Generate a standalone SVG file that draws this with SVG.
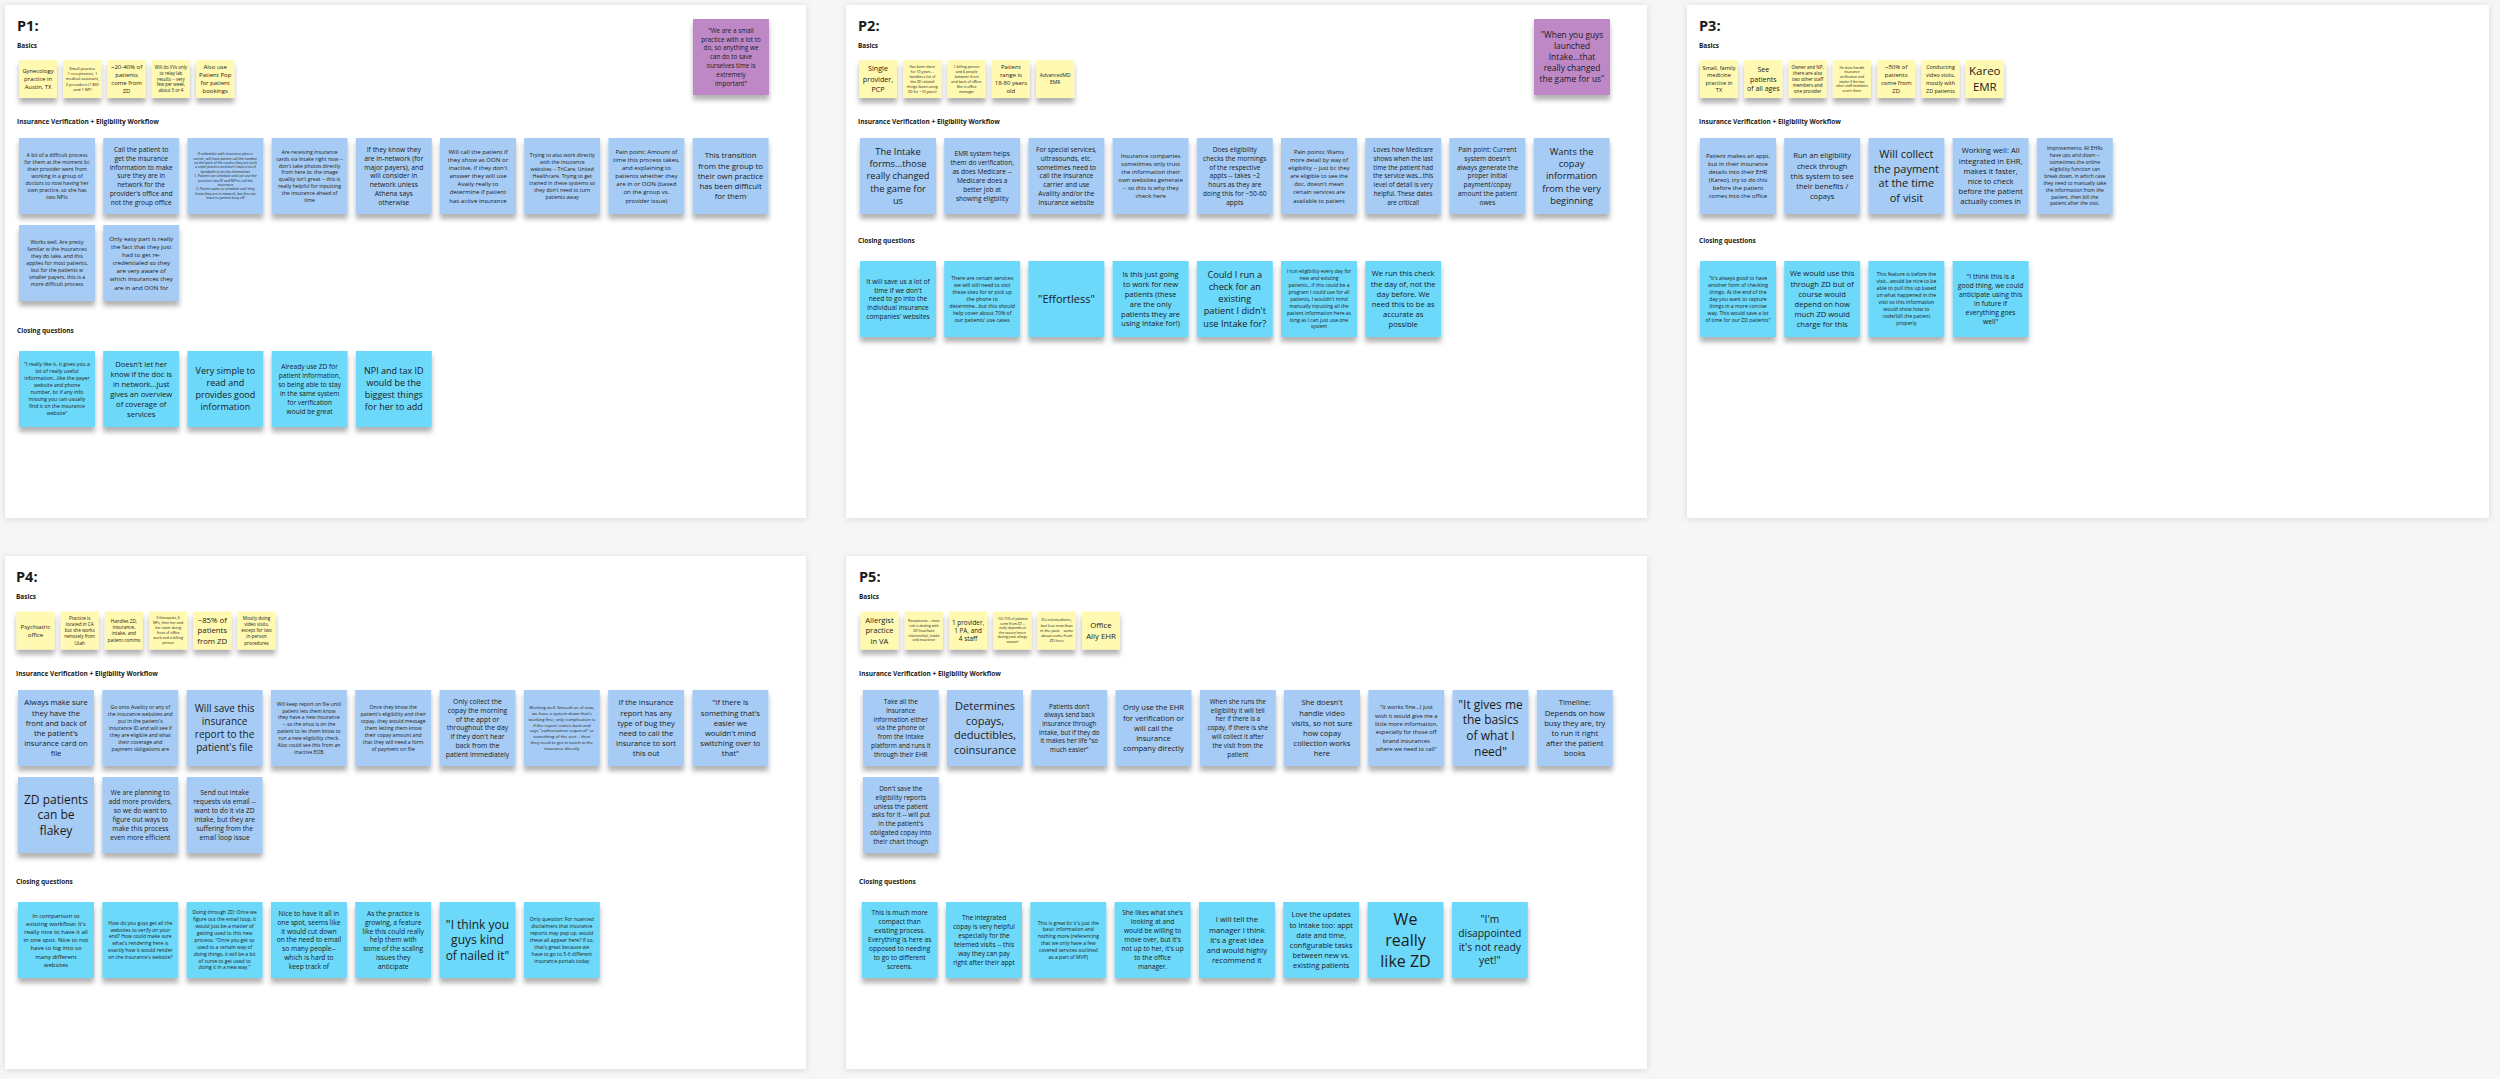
<svg xmlns="http://www.w3.org/2000/svg" width="2500" height="1079" viewBox="0 0 2500 1079">
<defs>
<filter id="ns" x="-20%" y="-20%" width="140%" height="150%"><feDropShadow dx="0" dy="5" stdDeviation="2.5" flood-color="#000" flood-opacity="0.3"/></filter>
<filter id="ps" x="-5%" y="-5%" width="110%" height="110%"><feDropShadow dx="0" dy="1" stdDeviation="3" flood-color="#000" flood-opacity="0.12"/></filter>
</defs>
<style>
text{font-family:"Open Sans","Liberation Sans",sans-serif;fill:#1a1a1a}
.n text{text-anchor:middle}
.n rect{filter:url(#ns)}
.y rect{fill:#fff9b1}
.b rect{fill:#a6ccf5}
.c rect{fill:#6cd8fa}
.v rect{fill:#be88c7}
.panel{fill:#fff;filter:url(#ps)}
.t{font-size:14.5px;font-weight:700}
.l{font-size:6.5px;font-weight:700}
</style>
<rect width="2500" height="1079" fill="#f6f6f6"/>
<g id="panels">
<rect class="panel" x="5" y="5" width="801" height="513"/>
<rect class="panel" x="846" y="5" width="801" height="513"/>
<rect class="panel" x="1687" y="5" width="802" height="513"/>
<rect class="panel" x="5" y="556" width="801" height="513"/>
<rect class="panel" x="846" y="556" width="801" height="513"/>
</g>
<g id="labels">
<text class="t" x="17" y="31">P1:</text>
<text class="l" x="17" y="47.5">Basics</text>
<text class="l" x="17" y="124">Insurance Verification + Eligibility Workflow</text>
<text class="l" x="17" y="333">Closing questions</text>
<text class="t" x="858" y="31">P2:</text>
<text class="l" x="858" y="47.5">Basics</text>
<text class="l" x="858" y="124">Insurance Verification + Eligibility Workflow</text>
<text class="l" x="858" y="243">Closing questions</text>
<text class="t" x="1699" y="31">P3:</text>
<text class="l" x="1699" y="47.5">Basics</text>
<text class="l" x="1699" y="124">Insurance Verification + Eligibility Workflow</text>
<text class="l" x="1699" y="243">Closing questions</text>
<text class="t" x="16" y="582">P4:</text>
<text class="l" x="16" y="599">Basics</text>
<text class="l" x="16" y="675.5">Insurance Verification + Eligibility Workflow</text>
<text class="l" x="16" y="884">Closing questions</text>
<text class="t" x="859" y="582">P5:</text>
<text class="l" x="859" y="599">Basics</text>
<text class="l" x="859" y="675.5">Insurance Verification + Eligibility Workflow</text>
<text class="l" x="859" y="884">Closing questions</text>
</g>

<!-- P1 -->
<g id="p1-b1" class="n y"><rect x="19" y="60" width="38" height="38"/><text x="38" y="73.4" font-size="5.8"><tspan x="38">Gynecology</tspan><tspan x="38" dy="7.8">practice in</tspan><tspan x="38" dy="7.8">Austin, TX</tspan></text></g>
<g id="p1-b2" class="n y"><rect x="63.3" y="60" width="38" height="38"/><text x="82.3" y="70" font-size="4"><tspan x="82.3">Small practice</tspan><tspan x="82.3" dy="5.2">1 receptionist, 1</tspan><tspan x="82.3" dy="5.2">medical assistant,</tspan><tspan x="82.3" dy="5.2">2 providers (1 MD</tspan><tspan x="82.3" dy="5.2">and 1 NP)</tspan></text></g>
<g id="p1-b3" class="n y"><rect x="107.6" y="60" width="38" height="38"/><text x="126.6" y="69.3" font-size="6"><tspan x="126.6">~20-40% of</tspan><tspan x="126.6" dy="7.9">patients</tspan><tspan x="126.6" dy="7.9">come from</tspan><tspan x="126.6" dy="7.9">ZD</tspan></text></g>
<g id="p1-b4" class="n y"><rect x="151.9" y="60" width="38" height="38"/><text x="170.9" y="69.2" font-size="4.4"><tspan x="170.9">Will do VVs only</tspan><tspan x="170.9" dy="5.7">to relay lab</tspan><tspan x="170.9" dy="5.7">results -- very</tspan><tspan x="170.9" dy="5.7">few per week,</tspan><tspan x="170.9" dy="5.7">about 3 or 4</tspan></text></g>
<g id="p1-b5" class="n y"><rect x="196.2" y="60" width="38" height="38"/><text x="215.2" y="69.3" font-size="6"><tspan x="215.2">Also use</tspan><tspan x="215.2" dy="7.9">Patient Pop</tspan><tspan x="215.2" dy="7.9">for patient</tspan><tspan x="215.2" dy="7.9">bookings</tspan></text></g>
<g id="p1-q" class="n v"><rect x="693" y="19" width="76" height="76"/><text x="731" y="32.6" font-size="6.3"><tspan x="731">"We are a small</tspan><tspan x="731" dy="8.9">practice with a lot to</tspan><tspan x="731" dy="8.9">do, so anything we</tspan><tspan x="731" dy="8.9">can do to save</tspan><tspan x="731" dy="8.9">ourselves time is</tspan><tspan x="731" dy="8.9">extremely</tspan><tspan x="731" dy="8.9">important"</tspan></text></g>

<g id="p1-w1" class="n b"><rect x="19" y="138" width="76" height="76"/><text x="57" y="157.2" font-size="5.2"><tspan x="57">A bit of a difficult process</tspan><tspan x="57" dy="6.9">for them at the moment bc</tspan><tspan x="57" dy="6.9">their provider went from</tspan><tspan x="57" dy="6.9">working in a group of</tspan><tspan x="57" dy="6.9">doctors to now having her</tspan><tspan x="57" dy="6.9">own practice, so she has</tspan><tspan x="57" dy="6.9">two NPIs</tspan></text></g>
<g id="p1-w2" class="n b"><rect x="103.2" y="138" width="76" height="76"/><text x="141.2" y="152" font-size="6.6"><tspan x="141.2">Call the patient to</tspan><tspan x="141.2" dy="8.8">get the insurance</tspan><tspan x="141.2" dy="8.8">information to make</tspan><tspan x="141.2" dy="8.8">sure they are in</tspan><tspan x="141.2" dy="8.8">network for the</tspan><tspan x="141.2" dy="8.8">provider's office and</tspan><tspan x="141.2" dy="8.8">not the group office</tspan></text></g>
<g id="p1-w3" class="n b"><rect x="187.4" y="138" width="76" height="76"/><text x="225.4" y="155.2" font-size="3.4"><tspan x="225.4">If unfamiliar with insurance plan or</tspan><tspan x="225.4" dy="4.4">carrier, will have patient call the number</tspan><tspan x="225.4" dy="4.4">on the back of the card to they are such</tspan><tspan x="225.4" dy="4.4">a small practice and don't have a lot of</tspan><tspan x="225.4" dy="4.4">bandwith to do this themselves</tspan><tspan x="225.4" dy="4.4">1. Patient can schedule and can use the</tspan><tspan x="225.4" dy="4.4">practice's tax ID and NPI to call the</tspan><tspan x="225.4" dy="4.4">insurance</tspan><tspan x="225.4" dy="4.4">2. Patient waits to schedule until they</tspan><tspan x="225.4" dy="4.4">know they are in-network, but this can</tspan><tspan x="225.4" dy="4.4">leave to patient drop-off</tspan></text></g>
<g id="p1-w4" class="n b"><rect x="271.6" y="138" width="76" height="76"/><text x="309.6" y="153.7" font-size="5.2"><tspan x="309.6">Are receiving insurance</tspan><tspan x="309.6" dy="6.9">cards via Intake right now --</tspan><tspan x="309.6" dy="6.9">don't take photos directly</tspan><tspan x="309.6" dy="6.9">from here bc the image</tspan><tspan x="309.6" dy="6.9">quality isn't great -- this is</tspan><tspan x="309.6" dy="6.9">really helpful for inputting</tspan><tspan x="309.6" dy="6.9">the insurance ahead of</tspan><tspan x="309.6" dy="6.9">time</tspan></text></g>
<g id="p1-w5" class="n b"><rect x="355.8" y="138" width="76" height="76"/><text x="393.8" y="151.75" font-size="6.8"><tspan x="393.8">If they know they</tspan><tspan x="393.8" dy="8.9">are in-network (for</tspan><tspan x="393.8" dy="8.9">major payers), and</tspan><tspan x="393.8" dy="8.9">will consider in</tspan><tspan x="393.8" dy="8.9">network unless</tspan><tspan x="393.8" dy="8.9">Athena says</tspan><tspan x="393.8" dy="8.9">otherwise</tspan></text></g>
<g id="p1-w6" class="n b"><rect x="440" y="138" width="76" height="76"/><text x="478" y="153.9" font-size="6.1"><tspan x="478">Will call the patient if</tspan><tspan x="478" dy="8.1">they show as OON or</tspan><tspan x="478" dy="8.1">inactive, if they don't</tspan><tspan x="478" dy="8.1">answer they will use</tspan><tspan x="478" dy="8.1">Availy really to</tspan><tspan x="478" dy="8.1">determine if patient</tspan><tspan x="478" dy="8.1">has active insurance</tspan></text></g>
<g id="p1-w7" class="n b"><rect x="524.2" y="138" width="76" height="76"/><text x="562.2" y="157.2" font-size="5.2"><tspan x="562.2">Trying to also work directly</tspan><tspan x="562.2" dy="6.9">with the insurance</tspan><tspan x="562.2" dy="6.9">websites -- TriCare, United</tspan><tspan x="562.2" dy="6.9">Healthcare. Trying to get</tspan><tspan x="562.2" dy="6.9">trained in these systems so</tspan><tspan x="562.2" dy="6.9">they don't need to turn</tspan><tspan x="562.2" dy="6.9">patients away</tspan></text></g>
<g id="p1-w8" class="n b"><rect x="608.4" y="138" width="76" height="76"/><text x="646.4" y="153.9" font-size="6.1"><tspan x="646.4">Pain point: Amount of</tspan><tspan x="646.4" dy="8.1">time this process takes,</tspan><tspan x="646.4" dy="8.1">and explaining to</tspan><tspan x="646.4" dy="8.1">patients whether they</tspan><tspan x="646.4" dy="8.1">are in or OON (based</tspan><tspan x="646.4" dy="8.1">on the group vs.</tspan><tspan x="646.4" dy="8.1">provider issue)</tspan></text></g>
<g id="p1-w9" class="n b"><rect x="692.6" y="138" width="76" height="76"/><text x="730.6" y="158.4" font-size="7.8"><tspan x="730.6">This transition</tspan><tspan x="730.6" dy="10.2">from the group to</tspan><tspan x="730.6" dy="10.2">their own practice</tspan><tspan x="730.6" dy="10.2">has been difficult</tspan><tspan x="730.6" dy="10.2">for them</tspan></text></g>
<g id="p1-w10" class="n b"><rect x="19" y="225" width="76" height="76"/><text x="57" y="244.2" font-size="5.2"><tspan x="57">Works well. Are pretty</tspan><tspan x="57" dy="6.9">familar w the insurances</tspan><tspan x="57" dy="6.9">they do take, and this</tspan><tspan x="57" dy="6.9">applies for most patients,</tspan><tspan x="57" dy="6.9">but for the patients w</tspan><tspan x="57" dy="6.9">smaller payers, this is a</tspan><tspan x="57" dy="6.9">more difficult process</tspan></text></g>
<g id="p1-w11" class="n b"><rect x="103.2" y="225" width="76" height="76"/><text x="141.2" y="240.9" font-size="6.1"><tspan x="141.2">Only easy part is really</tspan><tspan x="141.2" dy="8.1">the fact that they just</tspan><tspan x="141.2" dy="8.1">had to get re-</tspan><tspan x="141.2" dy="8.1">credentialed so they</tspan><tspan x="141.2" dy="8.1">are very aware of</tspan><tspan x="141.2" dy="8.1">which insurances they</tspan><tspan x="141.2" dy="8.1">are in and OON for</tspan></text></g>

<g id="p1-c1" class="n c"><rect x="19" y="351" width="76" height="76"/><text x="57" y="366.4" font-size="5.2"><tspan x="57">"I really like it, it gives you a</tspan><tspan x="57" dy="7">lot of really useful</tspan><tspan x="57" dy="7">information...like the payer</tspan><tspan x="57" dy="7">website and phone</tspan><tspan x="57" dy="7">number, bc if any info</tspan><tspan x="57" dy="7">missing you can usually</tspan><tspan x="57" dy="7">find it on the insurance</tspan><tspan x="57" dy="7">website"</tspan></text></g>
<g id="p1-c2" class="n c"><rect x="103.2" y="351" width="76" height="76"/><text x="141.2" y="366.5" font-size="7.6"><tspan x="141.2">Doesn't let her</tspan><tspan x="141.2" dy="10.1">know if the doc is</tspan><tspan x="141.2" dy="10.1">in network...just</tspan><tspan x="141.2" dy="10.1">gives an overview</tspan><tspan x="141.2" dy="10.1">of coverage of</tspan><tspan x="141.2" dy="10.1">services</tspan></text></g>
<g id="p1-c3" class="n c"><rect x="187.4" y="351" width="76" height="76"/><text x="225.4" y="374.4" font-size="9"><tspan x="225.4">Very simple to</tspan><tspan x="225.4" dy="11.9">read and</tspan><tspan x="225.4" dy="11.9">provides good</tspan><tspan x="225.4" dy="11.9">information</tspan></text></g>
<g id="p1-c4" class="n c"><rect x="271.6" y="351" width="76" height="76"/><text x="309.6" y="369.1" font-size="6.6"><tspan x="309.6">Already use ZD for</tspan><tspan x="309.6" dy="8.9">patient information,</tspan><tspan x="309.6" dy="8.9">so being able to stay</tspan><tspan x="309.6" dy="8.9">in the same system</tspan><tspan x="309.6" dy="8.9">for verification</tspan><tspan x="309.6" dy="8.9">would be great</tspan></text></g>
<g id="p1-c5" class="n c"><rect x="355.8" y="351" width="76" height="76"/><text x="393.8" y="374.4" font-size="9"><tspan x="393.8">NPI and tax ID</tspan><tspan x="393.8" dy="11.9">would be the</tspan><tspan x="393.8" dy="11.9">biggest things</tspan><tspan x="393.8" dy="11.9">for her to add</tspan></text></g>

<!-- P2 -->
<g id="p2-b1" class="n y"><rect x="859" y="60" width="38" height="38"/><text x="878" y="71.1" font-size="7.2"><tspan x="878">Single</tspan><tspan x="878" dy="10.5">provider,</tspan><tspan x="878" dy="10.5">PCP</tspan></text></g>
<g id="p2-b2" class="n y"><rect x="903.3" y="60" width="38" height="38"/><text x="922.3" y="67.8" font-size="3.6"><tspan x="922.3">Has been there</tspan><tspan x="922.3" dy="5">for 10 years --</tspan><tspan x="922.3" dy="5">handles a lot of</tspan><tspan x="922.3" dy="5">the ZD related</tspan><tspan x="922.3" dy="5">things (been using</tspan><tspan x="922.3" dy="5">ZD for ~10 years)</tspan></text></g>
<g id="p2-b3" class="n y"><rect x="947.6" y="60" width="38" height="38"/><text x="966.6" y="67.8" font-size="3.6"><tspan x="966.6">1 billing person</tspan><tspan x="966.6" dy="5">and 6 people</tspan><tspan x="966.6" dy="5">between front</tspan><tspan x="966.6" dy="5">and back of office.</tspan><tspan x="966.6" dy="5">She is office</tspan><tspan x="966.6" dy="5">manager</tspan></text></g>
<g id="p2-b4" class="n y"><rect x="991.9" y="60" width="38" height="38"/><text x="1010.9" y="69.3" font-size="6"><tspan x="1010.9">Patient</tspan><tspan x="1010.9" dy="7.9">range is</tspan><tspan x="1010.9" dy="7.9">18-80 years</tspan><tspan x="1010.9" dy="7.9">old</tspan></text></g>
<g id="p2-b5" class="n y"><rect x="1036.2" y="60" width="38" height="38"/><text x="1055.2" y="77.15" font-size="5"><tspan x="1055.2">AdvancedMD</tspan><tspan x="1055.2" dy="7.3">EMR</tspan></text></g>
<g id="p2-q" class="n v"><rect x="1534" y="19" width="76" height="76"/><text x="1572" y="37.6" font-size="8.4"><tspan x="1572">"When you guys</tspan><tspan x="1572" dy="11.2">launched</tspan><tspan x="1572" dy="11.2">Intake...that</tspan><tspan x="1572" dy="11.2">really changed</tspan><tspan x="1572" dy="11.2">the game for us"</tspan></text></g>

<g id="p2-w1" class="n b"><rect x="860" y="138" width="76" height="76"/><text x="898" y="154.95" font-size="9.3"><tspan x="898">The Intake</tspan><tspan x="898" dy="12.2">forms...those</tspan><tspan x="898" dy="12.2">really changed</tspan><tspan x="898" dy="12.2">the game for</tspan><tspan x="898" dy="12.2">us</tspan></text></g>
<g id="p2-w2" class="n b"><rect x="944.2" y="138" width="76" height="76"/><text x="982.2" y="155.9" font-size="6.6"><tspan x="982.2">EMR system helps</tspan><tspan x="982.2" dy="9">them do verification,</tspan><tspan x="982.2" dy="9">as does Medicare --</tspan><tspan x="982.2" dy="9">Medicare does a</tspan><tspan x="982.2" dy="9">better job at</tspan><tspan x="982.2" dy="9">showing eligbility</tspan></text></g>
<g id="p2-w3" class="n b"><rect x="1028.4" y="138" width="76" height="76"/><text x="1066.4" y="151.7" font-size="6.6"><tspan x="1066.4">For special services,</tspan><tspan x="1066.4" dy="8.9">ultrasounds, etc.</tspan><tspan x="1066.4" dy="8.9">sometimes need to</tspan><tspan x="1066.4" dy="8.9">call the insurance</tspan><tspan x="1066.4" dy="8.9">carrier and use</tspan><tspan x="1066.4" dy="8.9">Availity and/or the</tspan><tspan x="1066.4" dy="8.9">insurance website</tspan></text></g>
<g id="p2-w4" class="n b"><rect x="1112.6" y="138" width="76" height="76"/><text x="1150.6" y="157.9" font-size="6"><tspan x="1150.6">Insurance companies</tspan><tspan x="1150.6" dy="8.1">sometimes only trust</tspan><tspan x="1150.6" dy="8.1">the information their</tspan><tspan x="1150.6" dy="8.1">own websites generate</tspan><tspan x="1150.6" dy="8.1">-- so this is why they</tspan><tspan x="1150.6" dy="8.1">check here</tspan></text></g>
<g id="p2-w5" class="n b"><rect x="1196.8" y="138" width="76" height="76"/><text x="1234.8" y="151.7" font-size="6.6"><tspan x="1234.8">Does eligibility</tspan><tspan x="1234.8" dy="8.9">checks the mornings</tspan><tspan x="1234.8" dy="8.9">of the respective</tspan><tspan x="1234.8" dy="8.9">appts -- takes ~2</tspan><tspan x="1234.8" dy="8.9">hours as they are</tspan><tspan x="1234.8" dy="8.9">doing this for ~50-60</tspan><tspan x="1234.8" dy="8.9">appts</tspan></text></g>
<g id="p2-w6" class="n b"><rect x="1281" y="138" width="76" height="76"/><text x="1319" y="153.9" font-size="5.8"><tspan x="1319">Pain points: Wants</tspan><tspan x="1319" dy="8.1">more detail by way of</tspan><tspan x="1319" dy="8.1">eligibility -- just bc they</tspan><tspan x="1319" dy="8.1">are eligible to see the</tspan><tspan x="1319" dy="8.1">doc, doesn't mean</tspan><tspan x="1319" dy="8.1">certain services are</tspan><tspan x="1319" dy="8.1">available to patient</tspan></text></g>
<g id="p2-w7" class="n b"><rect x="1365.2" y="138" width="76" height="76"/><text x="1403.2" y="151.9" font-size="6.3"><tspan x="1403.2">Loves how Medicare</tspan><tspan x="1403.2" dy="8.8">shows when the last</tspan><tspan x="1403.2" dy="8.8">time the patient had</tspan><tspan x="1403.2" dy="8.8">the service was...this</tspan><tspan x="1403.2" dy="8.8">level of detail is very</tspan><tspan x="1403.2" dy="8.8">helpful. These dates</tspan><tspan x="1403.2" dy="8.8">are critical!</tspan></text></g>
<g id="p2-w8" class="n b"><rect x="1449.4" y="138" width="76" height="76"/><text x="1487.4" y="151.7" font-size="6.6"><tspan x="1487.4">Pain point: Current</tspan><tspan x="1487.4" dy="8.9">system doesn't</tspan><tspan x="1487.4" dy="8.9">always generate the</tspan><tspan x="1487.4" dy="8.9">proper initial</tspan><tspan x="1487.4" dy="8.9">payment/copay</tspan><tspan x="1487.4" dy="8.9">amount the patient</tspan><tspan x="1487.4" dy="8.9">owes</tspan></text></g>
<g id="p2-w9" class="n b"><rect x="1533.6" y="138" width="76" height="76"/><text x="1571.6" y="154.95" font-size="9.3"><tspan x="1571.6">Wants the</tspan><tspan x="1571.6" dy="12.2">copay</tspan><tspan x="1571.6" dy="12.2">information</tspan><tspan x="1571.6" dy="12.2">from the very</tspan><tspan x="1571.6" dy="12.2">beginning</tspan></text></g>

<g id="p2-c1" class="n c"><rect x="860" y="261" width="76" height="76"/><text x="898" y="283.8" font-size="6.6"><tspan x="898">It will save us a lot of</tspan><tspan x="898" dy="8.8">time if we don't</tspan><tspan x="898" dy="8.8">need to go into the</tspan><tspan x="898" dy="8.8">individual insurance</tspan><tspan x="898" dy="8.8">companies' websites</tspan></text></g>
<g id="p2-c2" class="n c"><rect x="944.2" y="261" width="76" height="76"/><text x="982.2" y="279.9" font-size="5.2"><tspan x="982.2">There are certain services</tspan><tspan x="982.2" dy="7">we will still need to visit</tspan><tspan x="982.2" dy="7">these sites for or pick up</tspan><tspan x="982.2" dy="7">the phone to</tspan><tspan x="982.2" dy="7">determine...but this should</tspan><tspan x="982.2" dy="7">help cover about 70% of</tspan><tspan x="982.2" dy="7">our patients' use cases</tspan></text></g>
<g id="p2-c3" class="n c"><rect x="1028.4" y="261" width="76" height="76"/><text x="1066.4" y="303" font-size="11"><tspan x="1066.4">"Effortless"</tspan></text></g>
<g id="p2-c4" class="n c"><rect x="1112.6" y="261" width="76" height="76"/><text x="1150.6" y="276.95" font-size="7.5"><tspan x="1150.6">Is this just going</tspan><tspan x="1150.6" dy="9.9">to work for new</tspan><tspan x="1150.6" dy="9.9">patients (these</tspan><tspan x="1150.6" dy="9.9">are the only</tspan><tspan x="1150.6" dy="9.9">patients they are</tspan><tspan x="1150.6" dy="9.9">using Intake for!)</tspan></text></g>
<g id="p2-c5" class="n c"><rect x="1196.8" y="261" width="76" height="76"/><text x="1234.8" y="278.1" font-size="9.2"><tspan x="1234.8">Could I run a</tspan><tspan x="1234.8" dy="12.1">check for an</tspan><tspan x="1234.8" dy="12.1">existing</tspan><tspan x="1234.8" dy="12.1">patient I didn't</tspan><tspan x="1234.8" dy="12.1">use Intake for?</tspan></text></g>
<g id="p2-c6" class="n c"><rect x="1281" y="261" width="76" height="76"/><text x="1319" y="273.2" font-size="5"><tspan x="1319">I run eligibility every day for</tspan><tspan x="1319" dy="6.9">new and existing</tspan><tspan x="1319" dy="6.9">patients...if this could be a</tspan><tspan x="1319" dy="6.9">program I could use for all</tspan><tspan x="1319" dy="6.9">patients, I wouldn't mind</tspan><tspan x="1319" dy="6.9">manually inputting all the</tspan><tspan x="1319" dy="6.9">patient information here as</tspan><tspan x="1319" dy="6.9">long as I can just use one</tspan><tspan x="1319" dy="6.9">system</tspan></text></g>
<g id="p2-c7" class="n c"><rect x="1365.2" y="261" width="76" height="76"/><text x="1403.2" y="276.45" font-size="7.6"><tspan x="1403.2">We run this check</tspan><tspan x="1403.2" dy="10.1">the day of, not the</tspan><tspan x="1403.2" dy="10.1">day before. We</tspan><tspan x="1403.2" dy="10.1">need this to be as</tspan><tspan x="1403.2" dy="10.1">accurate as</tspan><tspan x="1403.2" dy="10.1">possible</tspan></text></g>

<!-- P3 -->
<g id="p3-b1" class="n y"><rect x="1700" y="60" width="38" height="38"/><text x="1719" y="69.6" font-size="5.6"><tspan x="1719">Small, family</tspan><tspan x="1719" dy="7.6">medicine</tspan><tspan x="1719" dy="7.6">practice in</tspan><tspan x="1719" dy="7.6">TX</tspan></text></g>
<g id="p3-b2" class="n y"><rect x="1744.3" y="60" width="38" height="38"/><text x="1763.3" y="72.2" font-size="7"><tspan x="1763.3">See</tspan><tspan x="1763.3" dy="9.3">patients</tspan><tspan x="1763.3" dy="9.3">of all ages</tspan></text></g>
<g id="p3-b3" class="n y"><rect x="1788.6" y="60" width="38" height="38"/><text x="1807.6" y="68.5" font-size="4.6"><tspan x="1807.6">Owner and NP,</tspan><tspan x="1807.6" dy="6.1">there are also</tspan><tspan x="1807.6" dy="6.1">two other staff</tspan><tspan x="1807.6" dy="6.1">members and</tspan><tspan x="1807.6" dy="6.1">one provider</tspan></text></g>
<g id="p3-b4" class="n y"><rect x="1832.9" y="60" width="38" height="38"/><text x="1851.9" y="68.7" font-size="3.4"><tspan x="1851.9">He does handle</tspan><tspan x="1851.9" dy="4.6">insurance</tspan><tspan x="1851.9" dy="4.6">verification and</tspan><tspan x="1851.9" dy="4.6">intake if the two</tspan><tspan x="1851.9" dy="4.6">other staff members</tspan><tspan x="1851.9" dy="4.6">aren't there</tspan></text></g>
<g id="p3-b5" class="n y"><rect x="1877.2" y="60" width="38" height="38"/><text x="1896.2" y="69.3" font-size="6"><tspan x="1896.2">~50% of</tspan><tspan x="1896.2" dy="7.9">patients</tspan><tspan x="1896.2" dy="7.9">come from</tspan><tspan x="1896.2" dy="7.9">ZD</tspan></text></g>
<g id="p3-b6" class="n y"><rect x="1921.5" y="60" width="38" height="38"/><text x="1940.5" y="69.1" font-size="5.4"><tspan x="1940.5">Conducting</tspan><tspan x="1940.5" dy="7.9">video visits,</tspan><tspan x="1940.5" dy="7.9">mostly with</tspan><tspan x="1940.5" dy="7.9">ZD patients</tspan></text></g>
<g id="p3-b7" class="n y"><rect x="1965.8" y="60" width="38" height="38"/><text x="1984.8" y="75.25" font-size="11.5"><tspan x="1984.8">Kareo</tspan><tspan x="1984.8" dy="15.7">EMR</tspan></text></g>

<g id="p3-w1" class="n b"><rect x="1700" y="138" width="76" height="76"/><text x="1738" y="157.9" font-size="6"><tspan x="1738">Patient makes an appt,</tspan><tspan x="1738" dy="8.1">but in their insurance</tspan><tspan x="1738" dy="8.1">details into their EHR</tspan><tspan x="1738" dy="8.1">(Kareo), try to do this</tspan><tspan x="1738" dy="8.1">before the patient</tspan><tspan x="1738" dy="8.1">comes into the office</tspan></text></g>
<g id="p3-w2" class="n b"><rect x="1784.2" y="138" width="76" height="76"/><text x="1822.2" y="158.3" font-size="7.6"><tspan x="1822.2">Run an eligibility</tspan><tspan x="1822.2" dy="10.2">check through</tspan><tspan x="1822.2" dy="10.2">this system to see</tspan><tspan x="1822.2" dy="10.2">their benefits /</tspan><tspan x="1822.2" dy="10.2">copays</tspan></text></g>
<g id="p3-w3" class="n b"><rect x="1868.4" y="138" width="76" height="76"/><text x="1906.4" y="158.4" font-size="11"><tspan x="1906.4">Will collect</tspan><tspan x="1906.4" dy="14.4">the payment</tspan><tspan x="1906.4" dy="14.4">at the time</tspan><tspan x="1906.4" dy="14.4">of visit</tspan></text></g>
<g id="p3-w4" class="n b"><rect x="1952.6" y="138" width="76" height="76"/><text x="1990.6" y="153.45" font-size="7.6"><tspan x="1990.6">Working well: All</tspan><tspan x="1990.6" dy="10.1">integrated in EHR,</tspan><tspan x="1990.6" dy="10.1">makes it faster,</tspan><tspan x="1990.6" dy="10.1">nice to check</tspan><tspan x="1990.6" dy="10.1">before the patient</tspan><tspan x="1990.6" dy="10.1">actually comes in</tspan></text></g>
<g id="p3-w5" class="n b"><rect x="2036.8" y="138" width="76" height="76"/><text x="2074.8" y="150.2" font-size="5"><tspan x="2074.8">Improvements: All EHRs</tspan><tspan x="2074.8" dy="6.9">have ups and down --</tspan><tspan x="2074.8" dy="6.9">sometimes the online</tspan><tspan x="2074.8" dy="6.9">eligibility function can</tspan><tspan x="2074.8" dy="6.9">break down, in which case</tspan><tspan x="2074.8" dy="6.9">they need to manually take</tspan><tspan x="2074.8" dy="6.9">the information from the</tspan><tspan x="2074.8" dy="6.9">patient, then bill the</tspan><tspan x="2074.8" dy="6.9">patient after the visit.</tspan></text></g>

<g id="p3-c1" class="n c"><rect x="1700" y="261" width="76" height="76"/><text x="1738" y="279.9" font-size="5.1"><tspan x="1738">"It's always good to have</tspan><tspan x="1738" dy="7">another form of checking</tspan><tspan x="1738" dy="7">things. At the end of the</tspan><tspan x="1738" dy="7">day you want to capture</tspan><tspan x="1738" dy="7">things in a more concise</tspan><tspan x="1738" dy="7">way. This would save a lot</tspan><tspan x="1738" dy="7">of time for our ZD patients"</tspan></text></g>
<g id="p3-c2" class="n c"><rect x="1784.2" y="261" width="76" height="76"/><text x="1822.2" y="276.45" font-size="7.6"><tspan x="1822.2">We would use this</tspan><tspan x="1822.2" dy="10.1">through ZD but of</tspan><tspan x="1822.2" dy="10.1">course would</tspan><tspan x="1822.2" dy="10.1">depend on how</tspan><tspan x="1822.2" dy="10.1">much ZD would</tspan><tspan x="1822.2" dy="10.1">charge for this</tspan></text></g>
<g id="p3-c3" class="n c"><rect x="1868.4" y="261" width="76" height="76"/><text x="1906.4" y="276.3" font-size="5.1"><tspan x="1906.4">This feature is before the</tspan><tspan x="1906.4" dy="7">visit...would be nice to be</tspan><tspan x="1906.4" dy="7">able to pull this up based</tspan><tspan x="1906.4" dy="7">on what happened in the</tspan><tspan x="1906.4" dy="7">visit so this information</tspan><tspan x="1906.4" dy="7">would show how to</tspan><tspan x="1906.4" dy="7">code/bill the patient</tspan><tspan x="1906.4" dy="7">properly</tspan></text></g>
<g id="p3-c4" class="n c"><rect x="1952.6" y="261" width="76" height="76"/><text x="1990.6" y="279.2" font-size="6.8"><tspan x="1990.6">"I think this is a</tspan><tspan x="1990.6" dy="8.9">good thing, we could</tspan><tspan x="1990.6" dy="8.9">anticipate using this</tspan><tspan x="1990.6" dy="8.9">in future if</tspan><tspan x="1990.6" dy="8.9">everything goes</tspan><tspan x="1990.6" dy="8.9">well"</tspan></text></g>

<!-- P4 -->
<g id="p4-b1" class="n y"><rect x="16.5" y="611.5" width="38" height="38"/><text x="35.5" y="628.7" font-size="6"><tspan x="35.5">Psychiatric</tspan><tspan x="35.5" dy="8">office</tspan></text></g>
<g id="p4-b2" class="n y"><rect x="60.7" y="611.5" width="38" height="38"/><text x="79.7" y="619.7" font-size="4.6"><tspan x="79.7">Practice is</tspan><tspan x="79.7" dy="6.25">located in CA</tspan><tspan x="79.7" dy="6.25">but she works</tspan><tspan x="79.7" dy="6.25">remotely from</tspan><tspan x="79.7" dy="6.25">Utah</tspan></text></g>
<g id="p4-b3" class="n y"><rect x="104.9" y="611.5" width="38" height="38"/><text x="123.9" y="622.75" font-size="4.7"><tspan x="123.9">Handles ZD,</tspan><tspan x="123.9" dy="6.3">insurance,</tspan><tspan x="123.9" dy="6.3">intake, and</tspan><tspan x="123.9" dy="6.3">patient comms</tspan></text></g>
<g id="p4-b4" class="n y"><rect x="149.1" y="611.5" width="38" height="38"/><text x="168.1" y="619.3" font-size="3.6"><tspan x="168.1">3 therapists, 6</tspan><tspan x="168.1" dy="5">NPs, then her and</tspan><tspan x="168.1" dy="5">her sister doing</tspan><tspan x="168.1" dy="5">front of office</tspan><tspan x="168.1" dy="5">work and a billing</tspan><tspan x="168.1" dy="5">person</tspan></text></g>
<g id="p4-b5" class="n y"><rect x="193.3" y="611.5" width="38" height="38"/><text x="212.3" y="623.1" font-size="7.8"><tspan x="212.3">~85% of</tspan><tspan x="212.3" dy="10.2">patients</tspan><tspan x="212.3" dy="10.2">from ZD</tspan></text></g>
<g id="p4-b6" class="n y"><rect x="237.5" y="611.5" width="38" height="38"/><text x="256.5" y="619.7" font-size="4.6"><tspan x="256.5">Mostly doing</tspan><tspan x="256.5" dy="6.25">video visits,</tspan><tspan x="256.5" dy="6.25">except for two</tspan><tspan x="256.5" dy="6.25">in-person</tspan><tspan x="256.5" dy="6.25">procedures</tspan></text></g>

<g id="p4-w1" class="n b"><rect x="18" y="690" width="76" height="76"/><text x="56" y="705.45" font-size="7.6"><tspan x="56">Always make sure</tspan><tspan x="56" dy="10.1">they have the</tspan><tspan x="56" dy="10.1">front and back of</tspan><tspan x="56" dy="10.1">the patient's</tspan><tspan x="56" dy="10.1">insurance card on</tspan><tspan x="56" dy="10.1">file</tspan></text></g>
<g id="p4-w2" class="n b"><rect x="102.3" y="690" width="76" height="76"/><text x="140.3" y="708.9" font-size="5.1"><tspan x="140.3">Go onto Availity or any of</tspan><tspan x="140.3" dy="7">the insurance websites and</tspan><tspan x="140.3" dy="7">put in the patient's</tspan><tspan x="140.3" dy="7">insurance ID and will see if</tspan><tspan x="140.3" dy="7">they are eligible and what</tspan><tspan x="140.3" dy="7">their coverage and</tspan><tspan x="140.3" dy="7">payment obligations are</tspan></text></g>
<g id="p4-w3" class="n b"><rect x="186.6" y="690" width="76" height="76"/><text x="224.6" y="711.95" font-size="10"><tspan x="224.6">Will save this</tspan><tspan x="224.6" dy="13.1">insurance</tspan><tspan x="224.6" dy="13.1">report to the</tspan><tspan x="224.6" dy="13.1">patient's file</tspan></text></g>
<g id="p4-w4" class="n b"><rect x="270.9" y="690" width="76" height="76"/><text x="308.9" y="705.65" font-size="5"><tspan x="308.9">Will keep report on file until</tspan><tspan x="308.9" dy="6.9">patient lets them know</tspan><tspan x="308.9" dy="6.9">they have a new insurance</tspan><tspan x="308.9" dy="6.9">-- so the onus is on the</tspan><tspan x="308.9" dy="6.9">patient to let them know to</tspan><tspan x="308.9" dy="6.9">run a new eligibility check.</tspan><tspan x="308.9" dy="6.9">Also could see this from an</tspan><tspan x="308.9" dy="6.9">inactive EOB</tspan></text></g>
<g id="p4-w5" class="n b"><rect x="355.2" y="690" width="76" height="76"/><text x="393.2" y="709.1" font-size="5.1"><tspan x="393.2">Once they know the</tspan><tspan x="393.2" dy="6.9">patient's eligibility and their</tspan><tspan x="393.2" dy="6.9">copay, they would message</tspan><tspan x="393.2" dy="6.9">them letting them know</tspan><tspan x="393.2" dy="6.9">their copay amount and</tspan><tspan x="393.2" dy="6.9">that they will need a form</tspan><tspan x="393.2" dy="6.9">of payment on file</tspan></text></g>
<g id="p4-w6" class="n b"><rect x="439.5" y="690" width="76" height="76"/><text x="477.5" y="703.75" font-size="6.8"><tspan x="477.5">Only collect the</tspan><tspan x="477.5" dy="8.9">copay the morning</tspan><tspan x="477.5" dy="8.9">of the appt or</tspan><tspan x="477.5" dy="8.9">throughout the day</tspan><tspan x="477.5" dy="8.9">if they don't hear</tspan><tspan x="477.5" dy="8.9">back from the</tspan><tspan x="477.5" dy="8.9">patient immediately</tspan></text></g>
<g id="p4-w7" class="n b"><rect x="523.8" y="690" width="76" height="76"/><text x="561.8" y="709.25" font-size="4.3"><tspan x="561.8">Working well: Smooth as of now,</tspan><tspan x="561.8" dy="5.8">we have a system down that's</tspan><tspan x="561.8" dy="5.8">working fine; only complication is</tspan><tspan x="561.8" dy="5.8">if the report comes back and</tspan><tspan x="561.8" dy="5.8">says "authorization required" or</tspan><tspan x="561.8" dy="5.8">something of the sort -- then</tspan><tspan x="561.8" dy="5.8">they need to get in touch w the</tspan><tspan x="561.8" dy="5.8">insurance directly</tspan></text></g>
<g id="p4-w8" class="n b"><rect x="608.1" y="690" width="76" height="76"/><text x="646.1" y="705.45" font-size="7.6"><tspan x="646.1">If the insurance</tspan><tspan x="646.1" dy="10.1">report has any</tspan><tspan x="646.1" dy="10.1">type of bug they</tspan><tspan x="646.1" dy="10.1">need to call the</tspan><tspan x="646.1" dy="10.1">insurance to sort</tspan><tspan x="646.1" dy="10.1">this out</tspan></text></g>
<g id="p4-w9" class="n b"><rect x="692.4" y="690" width="76" height="76"/><text x="730.4" y="705.45" font-size="7.6"><tspan x="730.4">"If there is</tspan><tspan x="730.4" dy="10.1">something that's</tspan><tspan x="730.4" dy="10.1">easier we</tspan><tspan x="730.4" dy="10.1">wouldn't mind</tspan><tspan x="730.4" dy="10.1">switching over to</tspan><tspan x="730.4" dy="10.1">that"</tspan></text></g>
<g id="p4-w10" class="n b"><rect x="18" y="777" width="76" height="76"/><text x="56" y="803.8" font-size="12"><tspan x="56">ZD patients</tspan><tspan x="56" dy="15.5">can be</tspan><tspan x="56" dy="15.5">flakey</tspan></text></g>
<g id="p4-w11" class="n b"><rect x="102.3" y="777" width="76" height="76"/><text x="140.3" y="795.15" font-size="6.7"><tspan x="140.3">We are planning to</tspan><tspan x="140.3" dy="8.9">add more providers,</tspan><tspan x="140.3" dy="8.9">so we do want to</tspan><tspan x="140.3" dy="8.9">figure out ways to</tspan><tspan x="140.3" dy="8.9">make this process</tspan><tspan x="140.3" dy="8.9">even more efficient</tspan></text></g>
<g id="p4-w12" class="n b"><rect x="186.6" y="777" width="76" height="76"/><text x="224.6" y="795.15" font-size="6.7"><tspan x="224.6">Send out intake</tspan><tspan x="224.6" dy="8.9">requests via email --</tspan><tspan x="224.6" dy="8.9">want to do it via ZD</tspan><tspan x="224.6" dy="8.9">Intake, but they are</tspan><tspan x="224.6" dy="8.9">suffering from the</tspan><tspan x="224.6" dy="8.9">email loop issue</tspan></text></g>

<g id="p4-c1" class="n c"><rect x="18" y="902" width="76" height="76"/><text x="56" y="917.6" font-size="6"><tspan x="56">In comparison to</tspan><tspan x="56" dy="8.2">existing workflow: It's</tspan><tspan x="56" dy="8.2">really nice to have it all</tspan><tspan x="56" dy="8.2">in one spot. Nice to not</tspan><tspan x="56" dy="8.2">have to log into so</tspan><tspan x="56" dy="8.2">many different</tspan><tspan x="56" dy="8.2">websites</tspan></text></g>
<g id="p4-c2" class="n c"><rect x="102.3" y="902" width="76" height="76"/><text x="140.3" y="924.6" font-size="5"><tspan x="140.3">How do you guys get all the</tspan><tspan x="140.3" dy="6.9">websites to verify on your</tspan><tspan x="140.3" dy="6.9">end? How could make sure</tspan><tspan x="140.3" dy="6.9">what's rendering here is</tspan><tspan x="140.3" dy="6.9">exactly how it would render</tspan><tspan x="140.3" dy="6.9">on the insurance's website?</tspan></text></g>
<g id="p4-c3" class="n c"><rect x="186.6" y="902" width="76" height="76"/><text x="224.6" y="914.25" font-size="5"><tspan x="224.6">Doing through ZD: Once we</tspan><tspan x="224.6" dy="6.9">figure out the email loop, it</tspan><tspan x="224.6" dy="6.9">would just be a matter of</tspan><tspan x="224.6" dy="6.9">getting used to this new</tspan><tspan x="224.6" dy="6.9">process. "Once you get so</tspan><tspan x="224.6" dy="6.9">used to a certain way of</tspan><tspan x="224.6" dy="6.9">doing things, it will be a bit</tspan><tspan x="224.6" dy="6.9">of curve to get used to</tspan><tspan x="224.6" dy="6.9">doing it in a new way."</tspan></text></g>
<g id="p4-c4" class="n c"><rect x="270.9" y="902" width="76" height="76"/><text x="308.9" y="915.7" font-size="6.7"><tspan x="308.9">Nice to have it all in</tspan><tspan x="308.9" dy="8.9">one spot, seems like</tspan><tspan x="308.9" dy="8.9">it would cut down</tspan><tspan x="308.9" dy="8.9">on the need to email</tspan><tspan x="308.9" dy="8.9">so many people--</tspan><tspan x="308.9" dy="8.9">which is hard to</tspan><tspan x="308.9" dy="8.9">keep track of</tspan></text></g>
<g id="p4-c5" class="n c"><rect x="355.2" y="902" width="76" height="76"/><text x="393.2" y="915.7" font-size="6.7"><tspan x="393.2">As the practice is</tspan><tspan x="393.2" dy="8.9">growing, a feature</tspan><tspan x="393.2" dy="8.9">like this could really</tspan><tspan x="393.2" dy="8.9">help them with</tspan><tspan x="393.2" dy="8.9">some of the scaling</tspan><tspan x="393.2" dy="8.9">issues they</tspan><tspan x="393.2" dy="8.9">anticipate</tspan></text></g>
<g id="p4-c6" class="n c"><rect x="439.5" y="902" width="76" height="76"/><text x="477.5" y="928.5" font-size="12"><tspan x="477.5">"I think you</tspan><tspan x="477.5" dy="15.8">guys kind</tspan><tspan x="477.5" dy="15.8">of nailed it"</tspan></text></g>
<g id="p4-c7" class="n c"><rect x="523.8" y="902" width="76" height="76"/><text x="561.8" y="921.1" font-size="5"><tspan x="561.8">Only question: For nuanced</tspan><tspan x="561.8" dy="6.9">disclaimers that insurance</tspan><tspan x="561.8" dy="6.9">reports may pop up, would</tspan><tspan x="561.8" dy="6.9">these all appear here? If so,</tspan><tspan x="561.8" dy="6.9">that's great because we</tspan><tspan x="561.8" dy="6.9">have to go to 5-6 different</tspan><tspan x="561.8" dy="6.9">insurance portals today</tspan></text></g>

<!-- P5 -->
<g id="p5-b1" class="n y"><rect x="860.5" y="611.5" width="38" height="38"/><text x="879.5" y="622.9" font-size="7.6"><tspan x="879.5">Allergist</tspan><tspan x="879.5" dy="10.5">practice</tspan><tspan x="879.5" dy="10.5">in VA</tspan></text></g>
<g id="p5-b2" class="n y"><rect x="904.8" y="611.5" width="38" height="38"/><text x="923.8" y="622.4" font-size="3.4"><tspan x="923.8">Receptionist -- main</tspan><tspan x="923.8" dy="4.7">role is dealing with</tspan><tspan x="923.8" dy="4.7">ZD (love/hate</tspan><tspan x="923.8" dy="4.7">relationship), intake</tspan><tspan x="923.8" dy="4.7">and insurance</tspan></text></g>
<g id="p5-b3" class="n y"><rect x="949.1" y="611.5" width="38" height="38"/><text x="968.1" y="624.5" font-size="6.4"><tspan x="968.1">1 provider,</tspan><tspan x="968.1" dy="8.3">1 PA, and</tspan><tspan x="968.1" dy="8.3">4 staff</tspan></text></g>
<g id="p5-b4" class="n y"><rect x="993.4" y="611.5" width="38" height="38"/><text x="1012.4" y="620.45" font-size="3.3"><tspan x="1012.4">~50-75% of patients</tspan><tspan x="1012.4" dy="4.5">come from ZD --</tspan><tspan x="1012.4" dy="4.5">really depends on</tspan><tspan x="1012.4" dy="4.5">the season (more</tspan><tspan x="1012.4" dy="4.5">during peak allergy</tspan><tspan x="1012.4" dy="4.5">season)</tspan></text></g>
<g id="p5-b5" class="n y"><rect x="1037.7" y="611.5" width="38" height="38"/><text x="1056.7" y="621.4" font-size="3.9"><tspan x="1056.7">Do telemedicine,</tspan><tspan x="1056.7" dy="5.25">but less now than</tspan><tspan x="1056.7" dy="5.25">in the past. ~same</tspan><tspan x="1056.7" dy="5.25">about come from</tspan><tspan x="1056.7" dy="5.25">ZD here</tspan></text></g>
<g id="p5-b6" class="n y"><rect x="1082" y="611.5" width="38" height="38"/><text x="1101" y="627.8" font-size="7.8"><tspan x="1101">Office</tspan><tspan x="1101" dy="11">Ally EHR</tspan></text></g>

<g id="p5-w1" class="n b"><rect x="862.8" y="690" width="76" height="76"/><text x="900.8" y="703.9" font-size="6.4"><tspan x="900.8">Take all the</tspan><tspan x="900.8" dy="8.8">insurance</tspan><tspan x="900.8" dy="8.8">information either</tspan><tspan x="900.8" dy="8.8">via the phone or</tspan><tspan x="900.8" dy="8.8">from the Intake</tspan><tspan x="900.8" dy="8.8">platform and runs it</tspan><tspan x="900.8" dy="8.8">through their EHR</tspan></text></g>
<g id="p5-w2" class="n b"><rect x="947" y="690" width="76" height="76"/><text x="985" y="710.1" font-size="11"><tspan x="985">Determines</tspan><tspan x="985" dy="14.6">copays,</tspan><tspan x="985" dy="14.6">deductibles,</tspan><tspan x="985" dy="14.6">coinsurance</tspan></text></g>
<g id="p5-w3" class="n b"><rect x="1031.3" y="690" width="76" height="76"/><text x="1069.3" y="708.55" font-size="6.3"><tspan x="1069.3">Patients don't</tspan><tspan x="1069.3" dy="8.7">always send back</tspan><tspan x="1069.3" dy="8.7">insurance through</tspan><tspan x="1069.3" dy="8.7">Intake, but if they do</tspan><tspan x="1069.3" dy="8.7">it makes her life "so</tspan><tspan x="1069.3" dy="8.7">much easier"</tspan></text></g>
<g id="p5-w4" class="n b"><rect x="1115.5" y="690" width="76" height="76"/><text x="1153.5" y="710.3" font-size="7.6"><tspan x="1153.5">Only use the EHR</tspan><tspan x="1153.5" dy="10.2">for verification or</tspan><tspan x="1153.5" dy="10.2">will call the</tspan><tspan x="1153.5" dy="10.2">insurance</tspan><tspan x="1153.5" dy="10.2">company directly</tspan></text></g>
<g id="p5-w5" class="n b"><rect x="1199.8" y="690" width="76" height="76"/><text x="1237.8" y="703.64" font-size="6.4"><tspan x="1237.8">When she runs the</tspan><tspan x="1237.8" dy="8.9">eligibility it will tell</tspan><tspan x="1237.8" dy="8.9">her if there is a</tspan><tspan x="1237.8" dy="8.9">copay, if there is she</tspan><tspan x="1237.8" dy="8.9">will collect it after</tspan><tspan x="1237.8" dy="8.9">the visit from the</tspan><tspan x="1237.8" dy="8.9">patient</tspan></text></g>
<g id="p5-w6" class="n b"><rect x="1284" y="690" width="76" height="76"/><text x="1322" y="705.45" font-size="7.6"><tspan x="1322">She doesn't</tspan><tspan x="1322" dy="10.1">handle video</tspan><tspan x="1322" dy="10.1">visits, so not sure</tspan><tspan x="1322" dy="10.1">how copay</tspan><tspan x="1322" dy="10.1">collection works</tspan><tspan x="1322" dy="10.1">here</tspan></text></g>
<g id="p5-w7" class="n b"><rect x="1368.3" y="690" width="76" height="76"/><text x="1406.3" y="709.35" font-size="5.8"><tspan x="1406.3">"It works fine...I just</tspan><tspan x="1406.3" dy="8.3">wish it would give me a</tspan><tspan x="1406.3" dy="8.3">little more information,</tspan><tspan x="1406.3" dy="8.3">especially for those off</tspan><tspan x="1406.3" dy="8.3">brand insurances</tspan><tspan x="1406.3" dy="8.3">where we need to call"</tspan></text></g>
<g id="p5-w8" class="n b"><rect x="1452.5" y="690" width="76" height="76"/><text x="1490.5" y="708.6" font-size="12"><tspan x="1490.5">"It gives me</tspan><tspan x="1490.5" dy="15.8">the basics</tspan><tspan x="1490.5" dy="15.8">of what I</tspan><tspan x="1490.5" dy="15.8">need"</tspan></text></g>
<g id="p5-w9" class="n b"><rect x="1536.8" y="690" width="76" height="76"/><text x="1574.8" y="705.45" font-size="7.6"><tspan x="1574.8">Timeline:</tspan><tspan x="1574.8" dy="10.1">Depends on how</tspan><tspan x="1574.8" dy="10.1">busy they are, try</tspan><tspan x="1574.8" dy="10.1">to run it right</tspan><tspan x="1574.8" dy="10.1">after the patient</tspan><tspan x="1574.8" dy="10.1">books</tspan></text></g>
<g id="p5-w10" class="n b"><rect x="862.8" y="777" width="76" height="76"/><text x="900.8" y="790.7" font-size="6.5"><tspan x="900.8">Don't save the</tspan><tspan x="900.8" dy="8.9">eligibility reports</tspan><tspan x="900.8" dy="8.9">unless the patient</tspan><tspan x="900.8" dy="8.9">asks for it -- will put</tspan><tspan x="900.8" dy="8.9">in the patient's</tspan><tspan x="900.8" dy="8.9">obligated copay into</tspan><tspan x="900.8" dy="8.9">their chart though</tspan></text></g>

<g id="p5-c1" class="n c"><rect x="861.7" y="902" width="76" height="76"/><text x="899.7" y="915.4" font-size="6.6"><tspan x="899.7">This is much more</tspan><tspan x="899.7" dy="9">compact than</tspan><tspan x="899.7" dy="9">existing process.</tspan><tspan x="899.7" dy="9">Everything is here as</tspan><tspan x="899.7" dy="9">opposed to needing</tspan><tspan x="899.7" dy="9">to go to different</tspan><tspan x="899.7" dy="9">screens.</tspan></text></g>
<g id="p5-c2" class="n c"><rect x="946" y="902" width="76" height="76"/><text x="984" y="920.15" font-size="6.5"><tspan x="984">The integrated</tspan><tspan x="984" dy="8.9">copay is very helpful</tspan><tspan x="984" dy="8.9">especially for the</tspan><tspan x="984" dy="8.9">telemed visits -- this</tspan><tspan x="984" dy="8.9">way they can pay</tspan><tspan x="984" dy="8.9">right after their appt</tspan></text></g>
<g id="p5-c3" class="n c"><rect x="1030.3" y="902" width="76" height="76"/><text x="1068.3" y="924.55" font-size="5"><tspan x="1068.3">This is great bc it's just the</tspan><tspan x="1068.3" dy="6.9">basic information and</tspan><tspan x="1068.3" dy="6.9">nothing more (referencing</tspan><tspan x="1068.3" dy="6.9">that we only have a few</tspan><tspan x="1068.3" dy="6.9">covered services outlined</tspan><tspan x="1068.3" dy="6.9">as a part of MVP)</tspan></text></g>
<g id="p5-c4" class="n c"><rect x="1114.6" y="902" width="76" height="76"/><text x="1152.6" y="915.4" font-size="6.6"><tspan x="1152.6">She likes what she's</tspan><tspan x="1152.6" dy="9">looking at and</tspan><tspan x="1152.6" dy="9">would be willing to</tspan><tspan x="1152.6" dy="9">move over, but it's</tspan><tspan x="1152.6" dy="9">not up to her, it's up</tspan><tspan x="1152.6" dy="9">to the office</tspan><tspan x="1152.6" dy="9">manager.</tspan></text></g>
<g id="p5-c5" class="n c"><rect x="1198.9" y="902" width="76" height="76"/><text x="1236.9" y="922.3" font-size="7.6"><tspan x="1236.9">I will tell the</tspan><tspan x="1236.9" dy="10.2">manager I think</tspan><tspan x="1236.9" dy="10.2">it's a great idea</tspan><tspan x="1236.9" dy="10.2">and would highly</tspan><tspan x="1236.9" dy="10.2">recommend it</tspan></text></g>
<g id="p5-c6" class="n c"><rect x="1283.2" y="902" width="76" height="76"/><text x="1321.2" y="917.45" font-size="7.4"><tspan x="1321.2">Love the updates</tspan><tspan x="1321.2" dy="10.1">to Intake too: appt</tspan><tspan x="1321.2" dy="10.1">date and time,</tspan><tspan x="1321.2" dy="10.1">configurable tasks</tspan><tspan x="1321.2" dy="10.1">between new vs.</tspan><tspan x="1321.2" dy="10.1">existing patients</tspan></text></g>
<g id="p5-c7" class="n c"><rect x="1367.5" y="902" width="76" height="76"/><text x="1405.5" y="924.8" font-size="16"><tspan x="1405.5">We</tspan><tspan x="1405.5" dy="21">really</tspan><tspan x="1405.5" dy="21">like ZD</tspan></text></g>
<g id="p5-c8" class="n c"><rect x="1451.8" y="902" width="76" height="76"/><text x="1489.8" y="923.3" font-size="10.3"><tspan x="1489.8">"I'm</tspan><tspan x="1489.8" dy="13.6">disappointed</tspan><tspan x="1489.8" dy="13.6">it's not ready</tspan><tspan x="1489.8" dy="13.6">yet!"</tspan></text></g>
</svg>
